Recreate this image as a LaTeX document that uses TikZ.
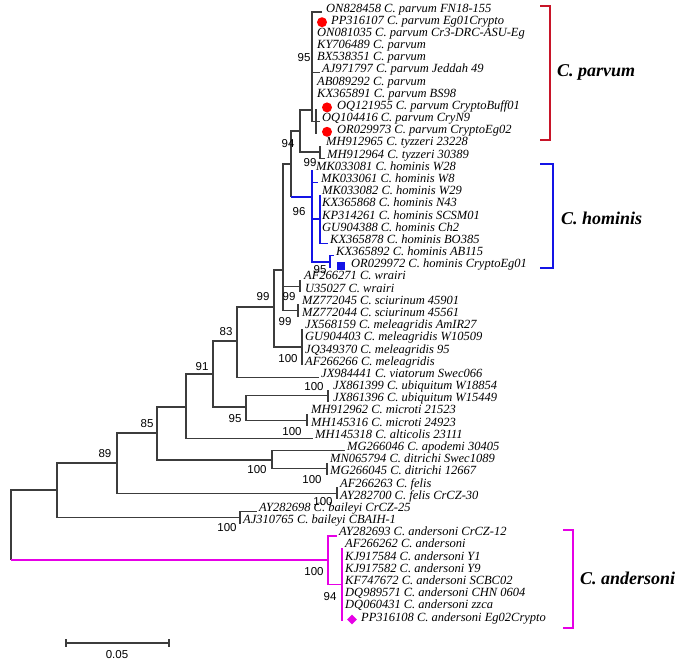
\documentclass[tikz,border=0pt]{standalone}
\usepackage{fontspec}
\usetikzlibrary{shapes.geometric}
\setmainfont{Liberation Serif}
\newfontfamily\bootfamily{Liberation Sans}
\definecolor{hominisblue}{RGB}{20,20,230}
\definecolor{andersonimag}{RGB}{230,0,230}
\definecolor{parvumred}{RGB}{200,20,40}
\definecolor{treegray}{RGB}{60,60,60}
\tikzset{
  branch/.style={line width=1.1pt, treegray},
  hombranch/.style={line width=1.7pt, hominisblue},
  andbranch/.style={line width=1.6pt, andersonimag},
  leaf/.style={anchor=base west, inner sep=0pt, font=\fontsize{12.5}{13}\selectfont\itshape},
  boot/.style={inner sep=0pt, font=\bootfamily\fontsize{11.5}{12}\selectfont},
  clade/.style={anchor=west, inner sep=0pt, font=\fontsize{18}{20}\selectfont\bfseries\itshape},
  bracket/.style={line width=2.2pt},
}
% one tip of the tree: index, end of branch, start of text, text
\newcommand{\tip}[4]{%
  \coordinate (l#1) at (#2,{12+12.18*#1});
  \node[leaf] (t#1) at (#3,{12+12.18*#1}) {#4};}
\begin{document}
\begin{tikzpicture}[x=1pt,y=-1pt]
	\useasboundingbox (0,0) rectangle (685,664);
	%inner nodes
	\coordinate (R) at (11,525);
	\coordinate (A) at (57,490);
	\coordinate (B) at (117,463);
	\coordinate (C) at (157,433);
	\coordinate (D) at (186,407);
	\coordinate (E) at (213,374);
	\coordinate (F) at (237,341);
	\coordinate (X) at (274,307);
	\coordinate (Y) at (283,270);
	\coordinate (W) at (291,164);
	\coordinate (Z) at (300,131);
	\coordinate (PA) at (312,110);
	\coordinate (PA2) at (316,121.6);
	\coordinate (TY) at (320,152);
	\coordinate (HO) at (312,197);
	\coordinate (HO2) at (320,219);
	\coordinate (HO3) at (330,261.7);
	\coordinate (WR) at (300,286.1);
	\coordinate (SC) at (298,310.4);
	\coordinate (ME) at (302,347);
	\coordinate (UM) at (246,407);
	\coordinate (UB) at (328,395.7);
	\coordinate (MI) at (307,420.1);
	\coordinate (G) at (272,460);
	\coordinate (H) at (327,468.8);
	\coordinate (FE) at (337,493.1);
	\coordinate (BL) at (240,517.5);
	\coordinate (AN) at (328,560);
	\coordinate (AN2) at (342,584.5);
	%parvum
	\tip{0}{322}{326}{ON828458 C. parvum FN18-155}
	\tip{1}{312}{331}{PP316107 C. parvum Eg01Crypto}
	\tip{2}{312}{317}{ON081035 C. parvum Cr3-DRC-ASU-Eg}
	\tip{3}{312}{317}{KY706489 C. parvum}
	\tip{4}{312}{317}{BX538351 C. parvum}
	\tip{5}{320}{322}{AJ971797 C. parvum Jeddah 49}
	\tip{6}{312}{317}{AB089292 C. parvum}
	\tip{7}{312}{317}{KX365891 C. parvum BS98}
	\tip{8}{316}{337}{OQ121955 C. parvum CryptoBuff01}
	\tip{9}{320}{322}{OQ104416 C. parvum CryN9}
	\tip{10}{316}{337}{OR029973 C. parvum CryptoEg02}
	\tip{11}{320}{326}{MH912965 C. tyzzeri 23228}
	\tip{12}{325}{327}{MH912964 C. tyzzeri 30389}
	%hominis
	\tip{13}{312}{316}{MK033081 C. hominis W28}
	\tip{14}{318}{321}{MK033061 C. hominis W8}
	\tip{15}{320}{322}{MK033082 C. hominis W29}
	\tip{16}{320}{322}{KX365868 C. hominis N43}
	\tip{17}{320}{322}{KP314261 C. hominis SCSM01}
	\tip{18}{320}{322}{GU904388 C. hominis Ch2}
	\tip{19}{328}{330}{KX365878 C. hominis BO385}
	\tip{20}{334}{336}{KX365892 C. hominis AB115}
	\tip{21}{330}{351}{OR029972 C. hominis CryptoEg01}
	%others
	\tip{22}{300}{304}{AF266271 C. wrairi}
	\tip{23}{300}{305}{U35027 C. wrairi}
	\tip{24}{298}{302}{MZ772045 C. sciurinum 45901}
	\tip{25}{298}{302}{MZ772044 C. sciurinum 45561}
	\tip{26}{302}{305}{JX568159 C. meleagridis AmIR27}
	\tip{27}{302}{305}{GU904403 C. meleagridis W10509}
	\tip{28}{302}{305}{JQ349370 C. meleagridis 95}
	\tip{29}{302}{305}{AF266266 C. meleagridis}
	\tip{30}{319}{321}{JX984441 C. viatorum Swec066}
	\tip{31}{328}{333}{JX861399 C. ubiquitum W18854}
	\tip{32}{328}{333}{JX861396 C. ubiquitum W15449}
	\tip{33}{307}{311}{MH912962 C. microti 21523}
	\tip{34}{307}{311}{MH145316 C. microti 24923}
	\tip{35}{313}{315}{MH145318 C. alticolis 23111}
	\tip{36}{345}{347}{MG266046 C. apodemi 30405}
	\tip{37}{327}{330}{MN065794 C. ditrichi Swec1089}
	\tip{38}{327}{330}{MG266045 C. ditrichi 12667}
	\tip{39}{337}{340}{AF266263 C. felis}
	\tip{40}{337}{340}{AY282700 C. felis CrCZ-30}
	\tip{41}{257}{259}{AY282698 C. baileyi CrCZ-25}
	\tip{42}{240}{243}{AJ310765 C. baileyi CBAIH-1}
	%andersoni
	\tip{43}{337}{339}{AY282693 C. andersoni CrCZ-12}
	\tip{44}{342}{345}{AF266262 C. andersoni}
	\tip{45}{342}{345}{KJ917584 C. andersoni Y1}
	\tip{46}{342}{345}{KJ917582 C. andersoni Y9}
	\tip{47}{342}{345}{KF747672 C. andersoni SCBC02}
	\tip{48}{342}{345}{DQ989571 C. andersoni CHN 0604}
	\tip{49}{342}{345}{DQ060431 C. andersoni zzca}
	\tip{50}{342}{361}{PP316108 C. andersoni Eg02Crypto}
	%branches
	\draw[branch] (R) |- (A);
	\draw[branch] (R) -- (R |- AN);
	\draw[andbranch] (R |- AN) -- (AN);
	\draw[branch] (A) |- (B);
	\draw[branch] (A) |- (BL);
	\draw[branch] (B) |- (C);
	\draw[branch] (B) |- (FE);
	\draw[branch] (C) |- (D);
	\draw[branch] (C) |- (G);
	\draw[branch] (D) |- (E);
	\draw[branch] (D) |- (l35);
	\draw[branch] (E) |- (F);
	\draw[branch] (E) |- (UM);
	\draw[branch] (F) |- (X);
	\draw[branch] (F) |- (l30);
	\draw[branch] (X) |- (Y);
	\draw[branch] (X) |- (ME);
	\draw[branch] (Y) |- (W);
	\draw[branch] (Y) |- (WR);
	\draw[branch] (Y) |- (SC);
	\draw[branch] (W) |- (Z);
	\draw[branch] (W) -- (W |- HO);
	\draw[hombranch] (W |- HO) -- (HO);
	\draw[branch] (Z) |- (PA);
	\draw[branch] (Z) |- (TY);
	\foreach \i in {0,...,7} \draw[branch] (PA) |- (l\i);
	\draw[branch] (PA) |- (PA2);
	\foreach \i in {8,9,10} \draw[branch] (PA2) |- (l\i);
	\foreach \i in {11,12} \draw[branch] (TY) |- (l\i);
	\foreach \i in {13,14} \draw[hombranch] (HO) |- (l\i);
	\draw[hombranch] (HO) |- (HO2);
	\draw[hombranch] (HO) |- (HO3);
	\foreach \i in {15,...,19} \draw[hombranch] (HO2) |- (l\i);
	\foreach \i in {20,21} \draw[hombranch] (HO3) |- (l\i);
	\foreach \i in {22,23} \draw[branch] (WR) |- (l\i);
	\foreach \i in {24,25} \draw[branch] (SC) |- (l\i);
	\foreach \i in {26,...,29} \draw[branch] (ME) |- (l\i);
	\draw[branch] (UM) |- (UB);
	\draw[branch] (UM) |- (MI);
	\foreach \i in {31,32} \draw[branch] (UB) |- (l\i);
	\foreach \i in {33,34} \draw[branch] (MI) |- (l\i);
	\draw[branch] (G) |- (l36);
	\draw[branch] (G) |- (H);
	\foreach \i in {37,38} \draw[branch] (H) |- (l\i);
	\foreach \i in {39,40} \draw[branch] (FE) |- (l\i);
	\foreach \i in {41,42} \draw[branch] (BL) |- (l\i);
	\draw[andbranch] (AN) |- (l43);
	\draw[andbranch] (AN) |- (AN2);
	\foreach \i in {44,...,50} \draw[andbranch] (AN2) |- (l\i);
	%markers
	\node[circle, fill=red, inner sep=0pt, minimum size=10pt] (m1) at (322,22.2) {};
	\node[circle, fill=red, inner sep=0pt, minimum size=10pt] (m2) at (327,107.4) {};
	\node[circle, fill=red, inner sep=0pt, minimum size=10pt] (m3) at (327,131.8) {};
	\node[fill=hominisblue, inner sep=0pt, minimum size=8.5pt] (m4) at (341,266) {};
	\node[diamond, fill=andersonimag, inner sep=0pt, minimum size=10pt] (m5) at (352,619.5) {};
	%bootstrap
	\node[boot] (b1) at (304,58) {95};
	\node[boot] (b2) at (288,144) {94};
	\node[boot] (b3) at (310,163) {99};
	\node[boot] (b4) at (299,212) {96};
	\node[boot] (b5) at (320,270) {95};
	\node[boot] (b6) at (289,297) {99};
	\node[boot] (b7) at (263,297) {99};
	\node[boot] (b8) at (285,322) {99};
	\node[boot] (b9) at (288,359) {100};
	\node[boot] (b10) at (226,332) {83};
	\node[boot] (b11) at (202,367) {91};
	\node[boot] (b12) at (314,387) {100};
	\node[boot] (b13) at (235,419) {95};
	\node[boot] (b14) at (292,432) {100};
	\node[boot] (b15) at (147,424) {85};
	\node[boot] (b16) at (105,454) {89};
	\node[boot] (b17) at (257,470) {100};
	\node[boot] (b18) at (312,480) {100};
	\node[boot] (b19) at (323,502) {100};
	\node[boot] (b20) at (227,528) {100};
	\node[boot] (b21) at (314,572) {100};
	\node[boot] (b22) at (330,597) {94};
	%clades
	\coordinate (pt) at (540,6);
	\coordinate (pb) at (540,140);
	\draw[bracket, parvumred] (pt) -- ++(10,0) |- (pb);
	\node[clade] (cp) at (557,72) {C. parvum};
	\coordinate (ht) at (540,164);
	\coordinate (hb) at (540,268);
	\draw[bracket, hominisblue] (ht) -- ++(13,0) |- (hb);
	\node[clade] (ch) at (561,218) {C. hominis};
	\coordinate (at) at (563,530);
	\coordinate (ab) at (563,628);
	\draw[bracket, andersonimag] (at) -- ++(10,0) |- (ab);
	\node[clade] (ca) at (580,578) {C. andersoni};
	%scale
	\coordinate (s1) at (66,643);
	\coordinate (s2) at (169,643);
	\draw[branch] (s1) -- (s2);
	\draw[branch] (s1) ++(0,-4) -- ++(0,8);
	\draw[branch] (s2) ++(0,-4) -- ++(0,8);
	\node[boot] (sl) at (117,655) {0.05};
\end{tikzpicture}
\end{document}
